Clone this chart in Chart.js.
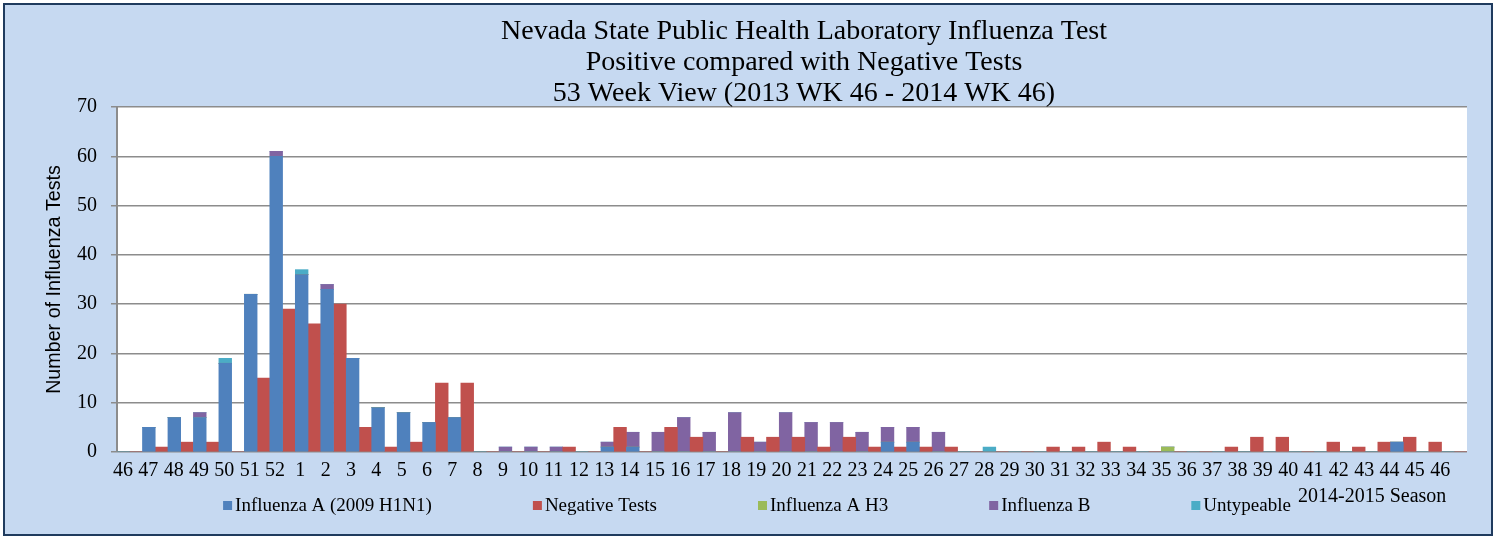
<!DOCTYPE html>
<html><head><meta charset="utf-8">
<script src="https://cdn.jsdelivr.net/npm/chart.js@4.4.0/dist/chart.umd.min.js"></script>
<style>
html,body{margin:0;padding:0;background:#fff;width:1499px;height:540px;overflow:hidden}
#frame{position:absolute;left:3px;top:3px;width:1486px;height:529px;background:#c6d9f1;border:2px solid #1f3b5e;}
#wrap{position:absolute;left:0;top:0;width:1499px;height:540px}
</style></head><body>
<div id="frame"></div>
<div id="wrap"><canvas id="c" width="1499" height="540"></canvas></div>
<script>
const titleLines = ['Nevada State Public Health Laboratory Influenza Test','Positive compared with Negative Tests','53 Week View (2013 WK 46 - 2014 WK 46)'];
const seasonNote = '2014-2015 Season';
const yTitle = 'Number of Influenza Tests';
const weekLabels = ['46','47','48','49','50','51','52','1','2','3','4','5','6','7','8','9','10','11','12','13','14','15','16','17','18','19','20','21','22','23','24','25','26','27','28','29','30','31','32','33','34','35','36','37','38','39','40','41','42','43','44','45','46'];
const yTicks = [0,10,20,30,40,50,60,70];
const fluAH1N1 = [0,5,7,7,18,32,60,36,33,19,9,8,6,7,0,0,0,0,0,1,1,0,0,0,0,0,0,0,0,0,2,2,0,0,0,0,0,0,0,0,0,0,0,0,0,0,0,0,0,0,2,0,0];
const negative = [0,1,2,2,0,15,29,26,30,5,1,2,14,14,0,0,0,1,0,5,0,5,3,0,3,3,3,1,3,1,1,1,1,0,0,0,1,1,2,1,0,0,0,1,3,3,0,2,1,2,3,2,0];
const fluAH3   = [0,0,0,0,0,0,0,0,0,0,0,0,0,0,0,0,0,0,0,0,0,0,0,0,0,0,0,0,0,0,0,0,0,0,0,0,0,0,0,0,0,1,0,0,0,0,0,0,0,0,0,0,0];
const fluB     = [0,0,0,1,0,0,1,0,1,0,0,0,0,0,0,1,1,1,0,1,3,4,7,4,8,2,8,6,6,4,3,3,4,0,0,0,0,0,0,0,0,0,0,0,0,0,0,0,0,0,0,0,0];
const untypeable = [0,0,0,0,1,0,0,1,0,0,0,0,0,0,0,0,0,0,0,0,0,0,0,0,0,0,0,0,0,0,0,0,0,0,1,0,0,0,0,0,0,0,0,0,0,0,0,0,0,0,0,0,0];

const serif = '"Liberation Serif", "Times New Roman", serif';

const overlay = {
  id: 'overlay',
  beforeDraw(chart) {
    const {ctx, chartArea: a} = chart;
    ctx.save();
    ctx.fillStyle = '#ffffff';
    ctx.fillRect(a.left, a.top, a.right - a.left, a.bottom - a.top);
    ctx.restore();
  },
  afterDraw(chart) {
    const ctx = chart.ctx;
    ctx.save();
    ctx.fillStyle = '#000';
    ctx.textAlign = 'center';
    ctx.textBaseline = 'middle';
    ctx.font = '28px ' + serif;
    titleLines.forEach((t, i) => ctx.fillText(t, 804, 32 + 31 * i));
    // legend
    ctx.font = '19px ' + serif;
    ctx.textAlign = 'left';
    const ds = chart.data.datasets;
    const box = 9, gapBox = 3, gap = 101;
    const widths = ds.map(d => box + gapBox + ctx.measureText(d.label).width);
    const total = widths.reduce((s, w) => s + w, 0) + gap * (ds.length - 1);
    let x = 757 - total / 2;
    const ly = 506;
    ds.forEach((d, i) => {
      ctx.fillStyle = d.backgroundColor;
      ctx.fillRect(x, ly - 5, box, box);
      ctx.fillStyle = '#000';
      ctx.fillText(d.label, x + box + gapBox, ly);
      x += widths[i] + gap;
    });
    ctx.font = '20px ' + serif;
    ctx.fillText(seasonNote, 1298, 497);
    ctx.restore();
  }
};

new Chart(document.getElementById('c'), {
  type: 'bar',
  data: {
    labels: weekLabels,
    datasets: [
      {label: 'Influenza A (2009 H1N1)', data: fluAH1N1, backgroundColor: '#4f81bd', stack: 'pos'},
      {label: 'Negative Tests', data: negative, backgroundColor: '#c0504d', stack: 'neg'},
      {label: 'Influenza A H3', data: fluAH3, backgroundColor: '#9bbb59', stack: 'pos'},
      {label: 'Influenza B', data: fluB, backgroundColor: '#8064a2', stack: 'pos'},
      {label: 'Untypeable', data: untypeable, backgroundColor: '#4bacc6', stack: 'pos'}
    ]
  },
  options: {
    responsive: false,
    animation: false,
    devicePixelRatio: 1,
    layout: {padding: {left: 0, right: 32, top: 107, bottom: 0}},
    datasets: {bar: {categoryPercentage: 1.0, barPercentage: 1.0, borderWidth: 0}},
    plugins: {legend: {display: false}, title: {display: false}, tooltip: {enabled: false}},
    scales: {
      x: {display: false, stacked: true},
      x2: {
        type: 'linear', position: 'bottom', min: -0.237, max: 53.06, bounds: 'data', offset: false,
        grid: {display: false}, border: {display: false},
        afterBuildTicks: (s) => { s.ticks = weekLabels.map((_, i) => ({value: i})); },
        afterFit: (s) => { s.height = 88; },
        ticks: {autoSkip: false, maxRotation: 0, minRotation: 0, padding: -1, color: '#000',
          font: {family: serif, size: 20}, callback: (v) => weekLabels[v]}
      },
      y: {
        stacked: true, min: 0, max: 70,
        afterBuildTicks: (s) => { s.ticks = yTicks.map(v => ({value: v})); },
        afterFit: (s) => { s.width = 117; },
        grid: {color: '#8c8c8c', lineWidth: 1.5, tickLength: 6, drawTicks: true},
        border: {display: true, color: '#8c8c8c', width: 2},
        ticks: {padding: 14, color: '#000', font: {family: serif, size: 20}},
        title: {display: true, text: yTitle, color: '#000', padding: {top: 43, bottom: 0},
          font: {family: '"Liberation Sans", Arial, sans-serif', size: 19.7}}
      }
    }
  },
  plugins: [overlay]
});
</script>
</body></html>
